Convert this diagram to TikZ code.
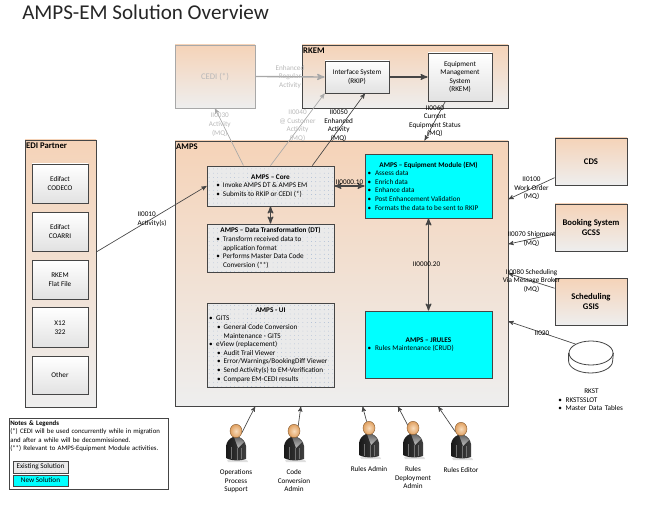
\documentclass[tikz,border=0pt]{standalone}
\usepackage{fontspec}
\setmainfont{Carlito}
\usetikzlibrary{arrows,patterns.meta,shadows,shapes.geometric}

\definecolor{tantop}{HTML}{F5D3B8}
\definecolor{tanbot}{HTML}{EEEEEE}
\definecolor{boxbot}{HTML}{E2E2E2}
\definecolor{edgegrey}{HTML}{454545}
\definecolor{fadegrey}{HTML}{A8A8A8}
\definecolor{fadetext}{HTML}{B8B8B8}
\definecolor{dotfill}{HTML}{EAEAEA}
\definecolor{dotblue}{HTML}{7F9CC4}
\definecolor{newcyan}{HTML}{00FFFF}
\definecolor{headin}{HTML}{F8DCBC}
\definecolor{headout}{HTML}{E0A060}
\newcommand{\bodyfont}{\fontsize{5.4}{6.45}\selectfont}
\newcommand{\notefont}{\fontsize{5.1}{6.3}\selectfont}
\newcommand{\headfont}{\fontsize{6.5}{7.8}\selectfont}
\newcommand{\itm}[3]{\par\hangindent=#2\hangafter=1\noindent\hskip#1\relax\makebox[\dimexpr#2-#1\relax][l]{\textbullet}#3\par}
\newcommand{\boxtitle}[1]{{\centering\bfseries #1\par}}

\begin{document}
\begin{tikzpicture}[x=0.75pt,y=-0.75pt,>=stealth',
    boxsize/.style 2 args={minimum width=#1*0.75pt,minimum height=#2*0.75pt},
    shade soft/.style={drop shadow={shadow xshift=0.7pt,shadow yshift=-0.7pt,opacity=0.35}},
    tan box/.style={rectangle,draw=edgegrey,line width=0.6pt,top color=tantop,bottom color=tanbot,shade soft,font=\headfont\bfseries,align=center,inner sep=0pt},
    faded box/.style={rectangle,draw=fadegrey,line width=0.6pt,top color=tantop,bottom color=tanbot,shade soft,font=\headfont,text=fadetext,align=center,inner sep=0pt},
    white box/.style={rectangle,draw=edgegrey,line width=0.6pt,top color=white,bottom color=boxbot,shade soft,font=\bodyfont,align=center,inner sep=0pt},
    head label/.style={anchor=north west,font=\headfont\bfseries,inner xsep=1pt,inner ysep=2.5pt},
    existing box/.style={rectangle,draw=edgegrey,line width=0.6pt,shade soft,preaction={fill=dotfill},pattern={Dots[distance=3.2pt,radius=0.22pt]},pattern color=dotblue,font=\bodyfont,inner sep=0pt},
    new box/.style={rectangle,draw=edgegrey,line width=0.6pt,fill=newcyan,shade soft,font=\bodyfont,inner sep=0pt},
    lab/.style={font=\bodyfont,align=center,inner sep=0pt},
    faded lab/.style={lab,text=fadetext},
    flow/.style={->,draw=edgegrey,line width=0.5pt},
    faded flow/.style={->,draw=fadegrey,line width=0.5pt},
    bold flow/.style={->,draw=edgegrey,line width=0.9pt},
    both flow/.style={<->,draw=edgegrey,line width=0.9pt},
    person head/.style={ellipse,draw=brown!70!black,line width=0.3pt,inner color=headin,outer color=headout,minimum width=9pt,minimum height=10pt,inner sep=0pt},
    person label/.style={font=\bodyfont,align=center,inner sep=0pt,label distance=23.5pt},
    suit/.pic={
      \fill[black!25,opacity=.5] (-9,29) -- (11,29) -- (12,31) -- (-8,31) -- cycle;
      \shade[left color=black!90,right color=black!75]
        (-3,6) .. controls (-7,8) and (-9,10) .. (-10,15) -- (-10,27) .. controls (-5,30) and (5,30) .. (10,28) -- (10,15) .. controls (9,10) and (7,8) .. (3,6) -- cycle;
      \shade[top color=black!60,bottom color=black!25] (-2,6) -- (3,6) -- (8,11) -- (2,17) -- cycle;
      \draw[black!55,line width=0.3pt] (-5,16) -- (-5,28) (5,17) -- (5,28) (1,17) -- (1,29);
    }]
  \useasboundingbox (0,0) rectangle (646,506);
  \node[anchor=west,inner sep=0pt,font=\fontsize{15.8}{19}\selectfont,text=black!85] (title) at (22,12) {AMPS-EM Solution Overview};

  \node[faded box,boxsize={80}{63}] (cedi) at (215,76.5) {CEDI (*)};
  \node[tan box,boxsize={206}{63},label={[head label]north west:RKEM}] (rkem) at (405,76.5) {};
  \node[white box,boxsize={64}{32}] (rkip) at (357,77) {Interface System\\(RKIP)};
  \node[white box,boxsize={64}{48}] (eqm) at (460,77) {Equipment\\Management\\System\\(RKEM)};

  \node[tan box,boxsize={333}{265},label={[head label]north west:AMPS}] (amps) at (341.5,273.5) {};
  \node[existing box,boxsize={127}{40}] (core) at (270.5,186) {\begin{minipage}{119\dimexpr0.75pt\relax}
    \boxtitle{AMPS -- Core}\itm{4pt}{9pt}{Invoke AMPS DT \& AMPS EM}\itm{4pt}{9pt}{Submits to RKIP or CEDI (*)}\end{minipage}};
  \node[existing box,boxsize={127}{48}] (dt) at (270.5,248) {\begin{minipage}{119\dimexpr0.75pt\relax}
    \boxtitle{AMPS -- Data Transformation (DT)}\itm{4pt}{9pt}{Transform received data to\\application format}\itm{4pt}{9pt}{Performs Master Data Code\\Conversion (**)}\end{minipage}};
  \node[existing box,boxsize={127}{84}] (ui) at (270.5,345) {\begin{minipage}{123\dimexpr0.75pt\relax}
    \boxtitle{AMPS - UI}\itm{0pt}{5.4pt}{GITS}\itm{6pt}{11pt}{General Code Conversion\\Maintenance - GITS}\itm{0pt}{5.4pt}{eView (replacement)}\itm{6pt}{11pt}{Audit Trail Viewer}\itm{6pt}{11pt}{Error/Warnings/BookingDiff Viewer}\itm{6pt}{11pt}{Send Activity(s) to EM-Verification}\itm{6pt}{11pt}{Compare EM-CEDI results}\end{minipage}};
  \node[new box,boxsize={127}{64}] (em) at (428.5,186) {\begin{minipage}{123\dimexpr0.75pt\relax}
    \boxtitle{AMPS -- Equipment Module (EM)}\itm{0.5pt}{6pt}{Assess data}\itm{0.5pt}{6pt}{Enrich data}\itm{0.5pt}{6pt}{Enhance data}\itm{0.5pt}{6pt}{Post Enhancement Validation}\itm{0.5pt}{6pt}{Formats the data to be sent to RKIP}\end{minipage}};
  \node[new box,boxsize={127}{67}] (jrules) at (428.5,344.5) {\begin{minipage}{123\dimexpr0.75pt\relax}
    \boxtitle{AMPS -- JRULES}\itm{0.5pt}{6pt}{Rules Maintenance (CRUD)}\end{minipage}};

  \node[tan box,boxsize={71}{267},label={[head label]north west:EDI Partner}] (edi) at (60.5,273.5) {};
  \node[white box,boxsize={56}{39},node distance=36pt] (codeco) at (60,183.5) {Edifact\\CODECO};
  \node[white box,boxsize={56}{39},node distance=36pt] (coarri) [below of=codeco] {Edifact\\COARRI};
  \node[white box,boxsize={56}{39},node distance=36pt] (flat) [below of=coarri] {RKEM\\Flat File};
  \node[white box,boxsize={56}{40},node distance=36pt] (x12) [below of=flat] {X12\\322};
  \node[white box,boxsize={56}{38},node distance=36pt] (other) [below of=x12] {Other};

  \node[tan box,boxsize={72}{47}] (cds) at (591,161.5) {CDS};
  \node[tan box,boxsize={72}{47}] (gcss) at (591,227.5) {Booking System\\GCSS};
  \node[tan box,boxsize={72}{47}] (gsis) at (591,301.5) {Scheduling\\GSIS};
  \node[ellipse,draw=edgegrey,line width=0.6pt,fill=white,boxsize={44}{24},inner sep=0pt] (rkst) at (591,353) {};
  \draw[draw=edgegrey,line width=0.6pt] (rkst.west) -- ++(0,8) arc[start angle=180,end angle=0,x radius=22,y radius=12] -- (rkst.east);
  \node[anchor=north west,font=\bodyfont,inner sep=0pt,text width=70*0.75pt,align=left] (rkstnote) at (556,388.5) {\hspace*{21pt}RKST\itm{1.5pt}{7pt}{RKSTSSLOT}\itm{1.5pt}{7pt}{Master Data Tables}};

  \node[rectangle,draw=edgegrey,line width=0.6pt,fill=white,boxsize={159}{71},inner sep=0pt,shade soft] (notes) at (88.5,453.5) {};
  \node[anchor=north west,font=\notefont,inner sep=0pt,text width=156*0.75pt,align=left] (notestext) at (10,420.5) {{\bfseries Notes \& Legends}\\(*) CEDI will be used concurrently while in migration\\and after a while will be decommissioned.\\(**) Relevant to AMPS-Equipment Module activities.};
  \node[existing box,boxsize={55}{12}] (legold) at (40.5,467) {Existing Solution};
  \node[new box,boxsize={55}{11}] (legnew) at (40.5,480.5) {New Solution};

  \pic at (236,431) {suit};
  \pic at (294,431) {suit};
  \pic at (369,428) {suit};
  \pic at (413,428) {suit};
  \pic at (461,429) {suit};
  \node[person head,label={[person label]below:Operations\\Process\\Support}] (per1) at (236,431) {};
  \node[person head,label={[person label]below:Code\\Conversion\\Admin}] (per2) at (294,431) {};
  \node[person head,label={[person label]below:Rules Admin}] (per3) at (369,428) {};
  \node[person head,label={[person label]below:Rules\\Deployment\\Admin}] (per4) at (413,428) {};
  \node[person head,label={[person label]below:Rules Editor}] (per5) at (461,429) {};

  \path
    (cedi.east) edge [faded flow,line width=1pt] node [faded lab] (l1) {Enhanced\\Regular\\Activity} (rkip.west)
    (rkip.east) edge [bold flow] (eqm.west)
    (core.143) edge [faded flow] node [faded lab,pos=.715,xshift=-2.5pt] (l30) {II0030\\Activity\\(MQ)} (cedi.south)
    (core.north) edge [faded flow] node [faded lab,yshift=3pt] (l40) {II0040\\@ Customer\\Activity\\(MQ)} (rkip.south west)
    (core.26.9) edge [flow] node [lab,yshift=3pt] (l50) {II0050\\Enhanced\\Activity\\(MQ)} (rkip.296.6)
    (eqm.239.7) edge [flow] node [lab] (l60) {II0060\\Current\\Equipment Status\\(MQ)} (amps.58.7)
    (core.east) edge [both flow] node [lab,yshift=3pt] (l10a) {II0000.10} (em.west)
    (core.south) edge [both flow] (dt.north)
    (em.south) edge [both flow] node [lab,xshift=-1.5pt] (l20) {II0000.20} (jrules.north)
    (edi.31.2) edge [flow] node [lab,text width=28*0.75pt,align=left] (l10) {II0010\\Activity(s)} (core.west)
    (cds.204.6) edge [flow] node [lab] (l100) {II0100\\Work Order\\(MQ)} (amps.24.1)
    (gcss.190.2) edge [flow] node [lab] (l70) {II0070 Shipment\\(MQ)} (amps.10.4)
    (gsis.160.9) edge [flow] node [lab] (l80) {II0080 Scheduling\\Via Message Broker\\(MQ)} (amps.0.2)
    (rkst.150) edge [flow] node [lab] (l20b) {II020} (amps.-16.2)
    (per1.-15) edge [flow] (amps.237.8)
    (per2.50) edge [flow] (amps.253.8)
    (per3.110) edge [flow] (amps.279.2)
    (per4.150) edge [flow] (amps.293.5)
    (per5.205) edge [flow] (amps.306.1)
    ;
\end{tikzpicture}
\end{document}
